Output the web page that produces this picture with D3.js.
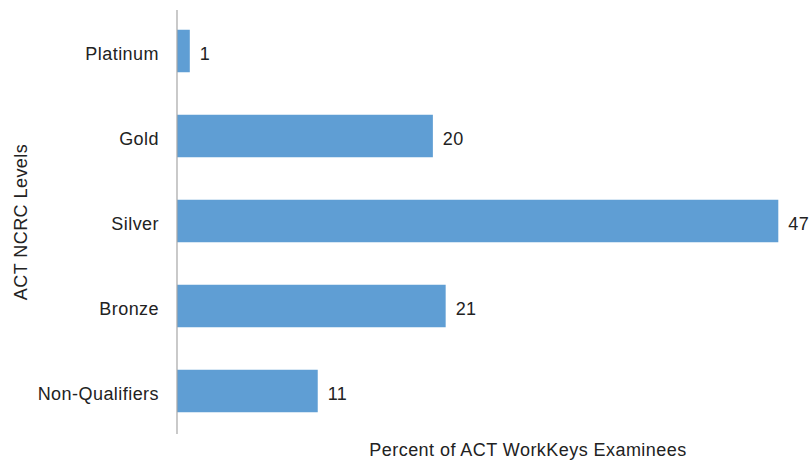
<!DOCTYPE html>
<html><head><meta charset="utf-8">
<script src="https://cdn.jsdelivr.net/npm/d3@7"></script>
<style>body{margin:0;background:#fff;} text{font-family:"Liberation Sans",Arial,sans-serif;fill:#222;letter-spacing:0.45px;}</style>
</head><body><svg id="c" width="811" height="462"></svg>
<script>
const categories = ["Platinum","Gold","Silver","Bronze","Non-Qualifiers"];
const values = [1,20,47,21,11];
const xTitle = "Percent of ACT WorkKeys Examinees";
const yTitle = "ACT NCRC Levels";

const svg = d3.select("#c");
const x0 = 177;
const x = d3.scaleLinear().domain([0,47]).range([x0,778.3]);
const y = d3.scaleBand().domain(categories).range([8.5,433.5]).paddingInner(0.5).paddingOuter(0.25);

svg.selectAll("rect.bar").data(categories).join("rect")
  .attr("class","bar")
  .attr("x",x(0)).attr("y",d=>y(d))
  .attr("width",(d,i)=>x(values[i])-x(0)).attr("height",y.bandwidth())
  .attr("fill","#5f9ed4");

svg.append("line").attr("x1",x0).attr("x2",x0).attr("y1",10).attr("y2",434)
  .attr("stroke","#a6a6a6").attr("stroke-width",1.2);

svg.selectAll("text.cat").data(categories).join("text")
  .attr("class","cat").attr("x",159).attr("y",d=>y(d)+y.bandwidth()/2)
  .attr("dy","0.5em").attr("text-anchor","end").attr("font-size",18).text(d=>d);

svg.selectAll("text.val").data(categories).join("text")
  .attr("class","val").attr("x",(d,i)=>x(values[i])+10).attr("y",d=>y(d)+y.bandwidth()/2)
  .attr("dy","0.5em").attr("font-size",18).text((d,i)=>values[i]);

svg.append("text").attr("x",528).attr("y",456).attr("text-anchor","middle").attr("font-size",18).text(xTitle);
svg.append("text").attr("transform","translate(27,222) rotate(-90)").attr("text-anchor","middle").attr("font-size",18).text(yTitle);
</script></body></html>
